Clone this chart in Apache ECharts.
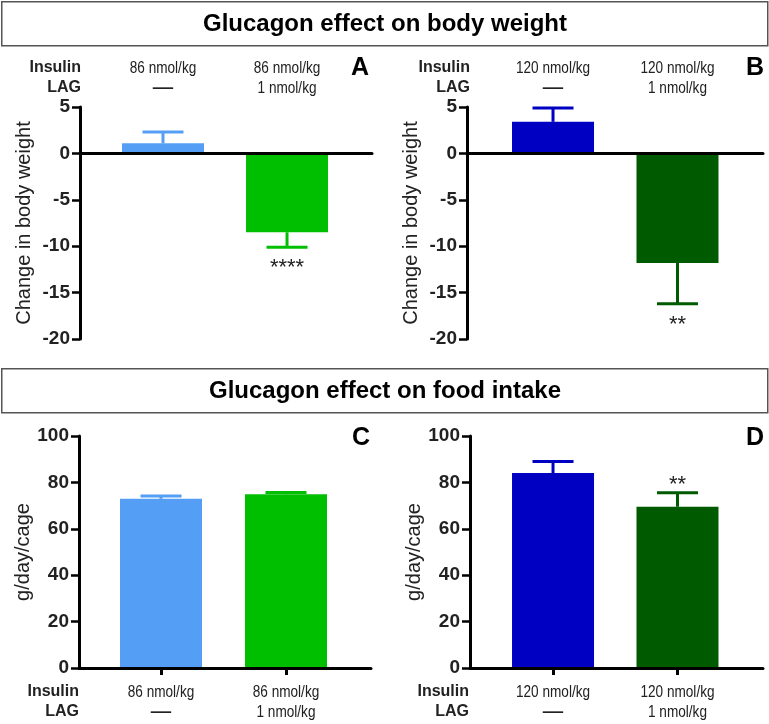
<!DOCTYPE html>
<html>
<head>
<meta charset="utf-8">
<script src="https://cdn.jsdelivr.net/npm/echarts@6/dist/echarts.min.js"></script>
<style>html,body{margin:0;padding:0;background:#fff}#c{width:769px;height:724px}</style>
</head>
<body>
<div id="c"></div>
<script>
// ---------- data ----------
const titleTop = 'Glucagon effect on body weight';
const titleBottom = 'Glucagon effect on food intake';
const rowHeaders = ['Insulin', 'LAG'];
const insulinLow = ['86 nmol/kg', '86 nmol/kg'];
const insulinHigh = ['120 nmol/kg', '120 nmol/kg'];
const lagDose = ['—', '1 nmol/kg'];
const panelLetters = ['A', 'B', 'C', 'D'];
const bwAxisName = 'Change in body weight';
const foodAxisName = 'g/day/cage';

const bwMeanA = [1.1, -8.5];
const bwErrA = [1.2, 1.6];
const bwSigA = ['', '****'];

const bwMeanB = [3.4, -11.8];
const bwErrB = [1.5, 4.4];
const bwSigB = ['', '**'];

const foodMeanC = [72.9, 74.9];
const foodErrC = [1.2, 0.8];
const foodSigC = ['', ''];

const foodMeanD = [84.0, 69.5];
const foodErrD = [5.0, 6.0];
const foodSigD = ['', '**'];

const bwTicks = { min: -20, max: 5, interval: 5 };
const foodTicks = { min: 0, max: 100, interval: 20 };

// ---------- styles ----------
const colorsLow = ['#559ef6', '#00bf00'];
const colorsHigh = ['#0000c2', '#005a00'];
const FONT = '"Liberation Sans", Arial, sans-serif';

const chart = echarts.init(document.getElementById('c'), null, { renderer: 'canvas' });

const panels = [
  { grid: { left: 80, top: 107, width: 292, height: 232 }, xr: [-0.669, 1.685], ticks: bwTicks, name: bwAxisName,
    mean: bwMeanA, err: bwErrA, sig: bwSigA, colors: colorsLow, ins: insulinLow, labelsTop: true },
  { grid: { left: 467, top: 107, width: 296, height: 232 }, xr: [-0.691, 1.687], ticks: bwTicks, name: bwAxisName,
    mean: bwMeanB, err: bwErrB, sig: bwSigB, colors: colorsHigh, ins: insulinHigh, labelsTop: true },
  { grid: { left: 79, top: 436, width: 292, height: 232 }, xr: [-0.656, 1.68], ticks: foodTicks, name: foodAxisName,
    mean: foodMeanC, err: foodErrC, sig: foodSigC, colors: colorsLow, ins: insulinLow, labelsTop: false },
  { grid: { left: 470, top: 436, width: 293, height: 232 }, xr: [-0.667, 1.687], ticks: foodTicks, name: foodAxisName,
    mean: foodMeanD, err: foodErrD, sig: foodSigD, colors: colorsHigh, ins: insulinHigh, labelsTop: false }
];

const grids = [], xAxes = [], yAxes = [], series = [];
const mainXIndex = [];

panels.forEach((p, gi) => {
  grids.push(Object.assign({}, p.grid));
  xAxes.push({
    gridIndex: gi, type: 'value', min: p.xr[0], max: p.xr[1], position: 'bottom', z: 5,
    splitLine: { show: false },
    axisLine: { show: true, onZero: true, lineStyle: { color: '#000', width: 3 } },
    axisTick: p.labelsTop ? { show: false } : { show: true, customValues: [0, 1], length: 7, lineStyle: { color: '#000', width: 3 } },
    axisLabel: { show: false }
  });
  const mainIdx = xAxes.length - 1;
  mainXIndex.push(mainIdx);
  yAxes.push({
    gridIndex: gi, type: 'value', min: p.ticks.min, max: p.ticks.max, interval: p.ticks.interval,
    splitLine: { show: false },
    axisLine: { show: true, onZero: false, lineStyle: { color: '#000', width: 3 } },
    axisTick: { show: true, length: 8, lineStyle: { color: '#000', width: 2.5 } },
    axisLabel: { margin: 10, fontFamily: FONT, fontSize: 19, fontWeight: 'bold', color: '#222' },
    name: p.name, nameLocation: 'middle', nameRotate: 90, nameGap: 46,
    nameTextStyle: { fontFamily: FONT, fontSize: 20, color: '#222' }
  });
  const yIdx = yAxes.length - 1;
  series.push({
    type: 'bar', xAxisIndex: mainIdx, yAxisIndex: yIdx, barWidth: 82, z: 2,
    data: p.mean.map((v, i) => ({ value: [i, v], itemStyle: { color: p.colors[i] } }))
  });
  series.push({
    type: 'custom', xAxisIndex: mainIdx, yAxisIndex: yIdx, z: 3,
    data: p.mean.map((v, i) => [i, v, p.err[i]]),
    renderItem: (params, api) => {
      const x = api.value(0), m = api.value(1), e = api.value(2);
      const dir = m >= 0 ? 1 : -1;
      const c = p.colors[params.dataIndex];
      const p0 = api.coord([x, m]);
      const p1 = api.coord([x, m + dir * e]);
      const st = { stroke: c, lineWidth: 3 };
      const children = [
        { type: 'line', shape: { x1: p0[0], y1: p0[1], x2: p1[0], y2: p1[1] }, style: st },
        { type: 'line', shape: { x1: p1[0] - 20.5, y1: p1[1], x2: p1[0] + 20.5, y2: p1[1] }, style: st }
      ];
      const s = p.sig[params.dataIndex];
      if (s) {
        children.push({ type: 'text', style: {
          text: s, x: p1[0], y: dir < 0 ? p1[1] + 10 : p1[1] + 3,
          align: 'center', verticalAlign: dir < 0 ? 'top' : 'bottom',
          font: '22px ' + FONT, fill: '#222' } });
      }
      return { type: 'group', children };
    }
  });
});

chart.setOption({
  animation: false,
  grid: grids, xAxis: xAxes, yAxis: yAxes, series: series
});

// graphics: title boxes, row headers, panel letters, category labels
const graphic = [];
[[1, titleTop], [368, titleBottom]].forEach(([y, t]) => {
  graphic.push({ type: 'rect', left: 1, top: y, shape: { x: 0, y: 0, width: 766, height: 44 },
    style: { fill: '#fff', stroke: '#555', lineWidth: 1.5 }, z: 0 });
  graphic.push({ type: 'text', x: 385, y: y + 23, style: { text: t, align: 'center', verticalAlign: 'middle',
    font: 'bold 24px ' + FONT, fill: '#000' }, z: 1 });
});
const headerPos = [[81, 68], [470, 68], [79, 692], [469, 692]];
headerPos.forEach(([x, y]) => {
  rowHeaders.forEach((h, k) => {
    graphic.push({ type: 'text', x: x, y: y + 20 * k, style: { text: h, align: 'right', verticalAlign: 'middle',
      font: 'bold 16px ' + FONT, fill: '#222' } });
  });
});
const letterPos = [[360, 68], [755, 68], [361, 438], [755, 438]];
letterPos.forEach(([x, y], i) => {
  graphic.push({ type: 'text', x: x, y: y, style: { text: panelLetters[i], align: 'center', verticalAlign: 'middle',
    font: 'bold 25px ' + FONT, fill: '#000' } });
});
// condensed category labels placed through each panel's x axis
panels.forEach((p, gi) => {
  const y0 = p.labelsTop ? 68 : 692;
  [0, 1].forEach((i) => {
    const px = chart.convertToPixel({ xAxisIndex: mainXIndex[gi] }, i);
    [p.ins[i], lagDose[i]].forEach((txt, k) => {
      const isDash = txt === '—';
      graphic.push({ type: 'text', x: px, y: y0 + 20 * k, scaleX: isDash ? 1.2 : 0.8,
        style: { text: txt, align: 'center', verticalAlign: 'middle',
          font: (isDash ? 'bold ' : '') + '17px ' + FONT, fill: '#222' } });
    });
  });
});
chart.setOption({ graphic: graphic });
</script>
</body>
</html>
